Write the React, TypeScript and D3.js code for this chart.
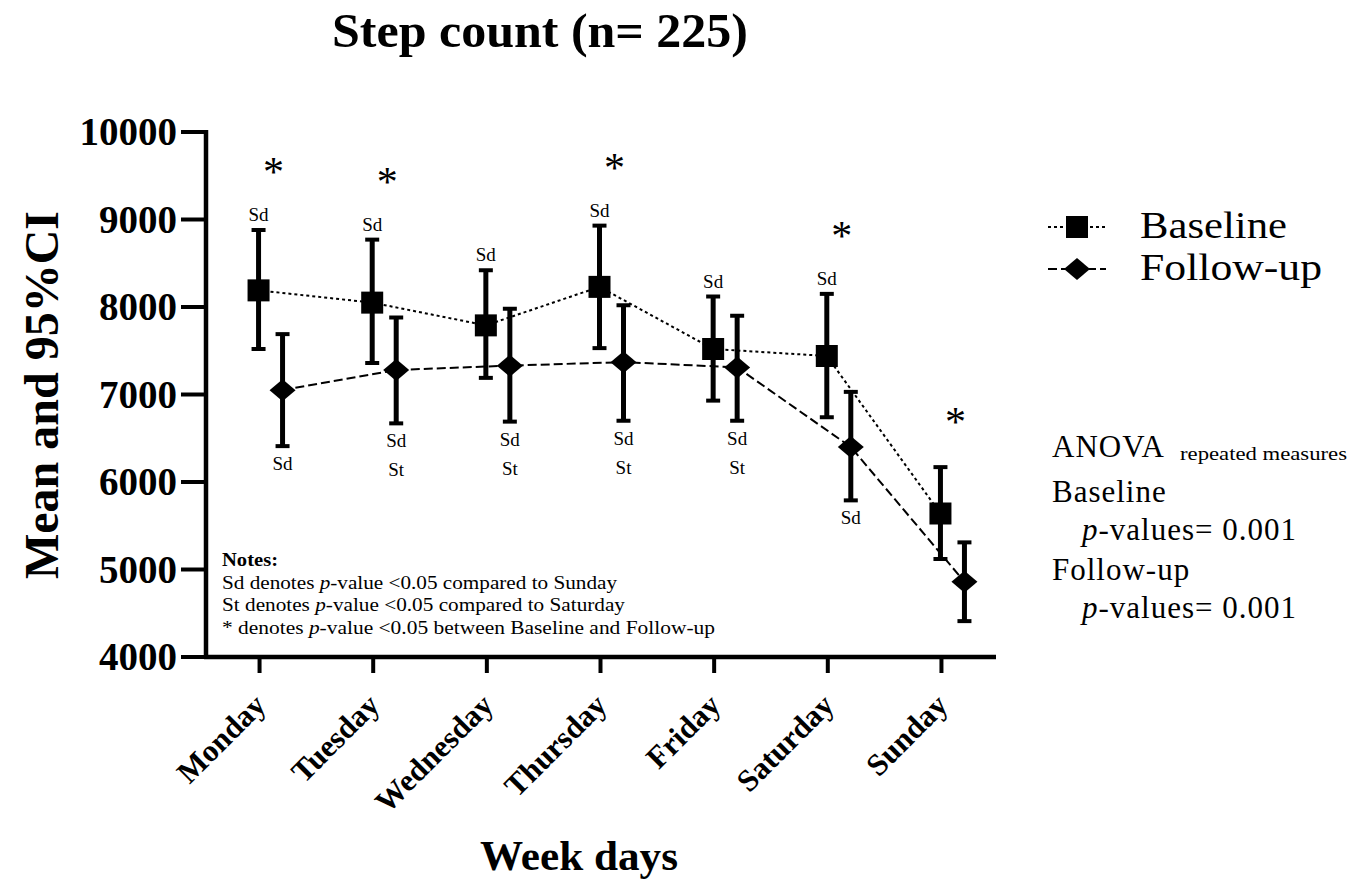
import React from "react";
import * as d3 from "d3";

// chart values
const days = ["Monday", "Tuesday", "Wednesday", "Thursday", "Friday", "Saturday", "Sunday"];
const baselineMean = [8190, 8050, 7790, 8230, 7520, 7440, 5640];
const baselineLow = [7520, 7360, 7190, 7530, 6930, 6740, 5120];
const baselineHigh = [8880, 8770, 8420, 8930, 8120, 8150, 6170];
const followMean = [7050, 7280, 7330, 7370, 7310, 6400, 4860];
const followLow = [6410, 6670, 6690, 6700, 6700, 5790, 4410];
const followHigh = [7690, 7880, 7980, 8020, 7900, 7030, 5310];
const baselineMarks = ["Sd", "Sd", "Sd", "Sd", "Sd", "Sd", ""];
const followMarks = [["Sd"], ["Sd", "St"], ["Sd", "St"], ["Sd", "St"], ["Sd", "St"], ["Sd"], []];
const starDays = [true, true, false, true, false, true, true];
const yTicks = [4000, 5000, 6000, 7000, 8000, 9000, 10000];

const W = 1351;
const H = 881;
const FONT = "'Liberation Serif', 'Times New Roman', serif";

export default function App() {
  const y = d3.scaleLinear().domain([4000, 10000]).range([657, 132]);
  const x = d3.scalePoint<string>().domain(days).range([205, 996]).padding(0.48);
  const bx = (d: string) => (x(d) as number) - 1; // baseline offset
  const fx = (d: string) => (x(d) as number) + 23; // follow-up offset

  const baseLine = d3
    .line<number>()
    .x((_, i) => bx(days[i]))
    .y((d) => y(d));
  const followLine = d3
    .line<number>()
    .x((_, i) => fx(days[i]))
    .y((d) => y(d));

  const diamond = (cx: number, cy: number) =>
    `M${cx},${cy - 11}L${cx + 13},${cy}L${cx},${cy + 11}L${cx - 13},${cy}Z`;

  const errBar = (cx: number, lo: number, hi: number, key: string) => (
    <g key={key} stroke="#000">
      <line x1={cx} x2={cx} y1={y(hi)} y2={y(lo)} strokeWidth={5} />
      <line x1={cx - 7} x2={cx + 7} y1={y(hi)} y2={y(hi)} strokeWidth={4} />
      <line x1={cx - 7} x2={cx + 7} y1={y(lo)} y2={y(lo)} strokeWidth={4} />
    </g>
  );

  return (
    <svg
      width={W}
      height={H}
      style={{ position: "absolute", left: 0, top: 0, background: "#fff" }}
      fontFamily={FONT}
    >
      {/* title */}
      <text x={332} y={47} fontSize={48} fontWeight="bold" textLength={416} lengthAdjust="spacingAndGlyphs">
        Step count (n= 225)
      </text>

      {/* y axis */}
      <line x1={206} x2={206} y1={y(10000) - 2} y2={y(4000) + 2} stroke="#000" strokeWidth={4.5} />
      {yTicks.map((t) => (
        <g key={t}>
          <line x1={181} x2={206} y1={y(t)} y2={y(t)} stroke="#000" strokeWidth={4} />
          <text x={177} y={y(t)} dy="0.34em" textAnchor="end" fontSize={39} fontWeight="bold">
            {t}
          </text>
        </g>
      ))}
      <text
        transform="translate(58,395) rotate(-90)"
        textAnchor="middle"
        fontSize={48}
        fontWeight="bold"
      >
        Mean and 95%CI
      </text>

      {/* x axis */}
      <line x1={204} x2={996} y1={y(4000)} y2={y(4000)} stroke="#000" strokeWidth={4.5} />
      {days.map((d) => (
        <g key={d}>
          <line x1={x(d)} x2={x(d)} y1={y(4000)} y2={y(4000) + 16} stroke="#000" strokeWidth={4} />
          <text
            transform={`translate(${(x(d) as number) + 8},${y(4000) + 50}) rotate(-45)`}
            textAnchor="end"
            fontSize={31}
            fontWeight="bold"
          >
            {d}
          </text>
        </g>
      ))}
      <text x={480} y={870} fontSize={42} fontWeight="bold" textLength={198} lengthAdjust="spacingAndGlyphs">
        Week days
      </text>

      {/* notes */}
      <g fontSize={19}>
        <text x={222} y={566} fontWeight="bold" textLength={56} lengthAdjust="spacingAndGlyphs">Notes:</text>
        <text x={222} y={589} textLength={395} lengthAdjust="spacingAndGlyphs">
          Sd denotes <tspan fontStyle="italic">p</tspan>-value {"<"}0.05 compared to Sunday
        </text>
        <text x={222} y={611} textLength={403} lengthAdjust="spacingAndGlyphs">
          St denotes <tspan fontStyle="italic">p</tspan>-value {"<"}0.05 compared to Saturday
        </text>
        <text x={222} y={634} textLength={493} lengthAdjust="spacingAndGlyphs">
          * denotes <tspan fontStyle="italic">p</tspan>-value {"<"}0.05 between Baseline and  Follow-up
        </text>
      </g>

      {/* series lines */}
      <path d={baseLine(baselineMean) || ""} fill="none" stroke="#000" strokeWidth={2} strokeDasharray="3,3" />
      <path d={followLine(followMean) || ""} fill="none" stroke="#000" strokeWidth={2} strokeDasharray="9,4" />

      {/* error bars + markers */}
      {days.map((d, i) => errBar(bx(d), baselineLow[i], baselineHigh[i], "be" + d))}
      {days.map((d, i) => errBar(fx(d), followLow[i], followHigh[i], "fe" + d))}
      {days.map((d, i) => (
        <rect key={"bm" + d} x={bx(d) - 11} y={y(baselineMean[i]) - 11} width={22} height={22} fill="#000" />
      ))}
      {days.map((d, i) => (
        <path key={"fm" + d} d={diamond(fx(d), y(followMean[i]))} fill="#000" />
      ))}

      {/* significance labels */}
      <g fontSize={19} textAnchor="middle">
        {days.map((d, i) =>
          baselineMarks[i] ? (
            <text key={"bs" + d} x={bx(d)} y={y(baselineHigh[i]) - 9}>
              {baselineMarks[i]}
            </text>
          ) : null
        )}
        {days.map((d, i) =>
          followMarks[i].map((m, j) => (
            <text key={"fs" + d + m} x={fx(d)} y={y(followLow[i]) + 24 + j * 29}>
              {m}
            </text>
          ))
        )}
      </g>
      <g fontSize={42} textAnchor="middle">
        {days.map((d, i) =>
          starDays[i] ? (
            <text
              key={"st" + d}
              x={(bx(d) + fx(d)) / 2 + 3}
              y={y(baselineHigh[i]) - (baselineMarks[i] ? 65 : 52) + 21}
            >
              *
            </text>
          ) : null
        )}
      </g>

      {/* legend */}
      <line x1={1048} x2={1106} y1={227} y2={227} stroke="#000" strokeWidth={2} strokeDasharray="3,3" />
      <rect x={1066} y={216} width={22} height={22} fill="#000" />
      <text x={1140} y={238} fontSize={37} textLength={147} lengthAdjust="spacingAndGlyphs">Baseline</text>
      <line x1={1048} x2={1106} y1={269} y2={269} stroke="#000" strokeWidth={2} strokeDasharray="9,4" />
      <path d={diamond(1077, 269)} fill="#000" />
      <text x={1140} y={280} fontSize={37} textLength={182} lengthAdjust="spacingAndGlyphs">Follow-up</text>

      {/* ANOVA */}
      <g fontSize={31} letterSpacing={1}>
        <text x={1052} y={457}>
          ANOVA
        </text>
        <text x={1180} y={460} fontSize={19} letterSpacing={0} textLength={167} lengthAdjust="spacingAndGlyphs">
          repeated measures
        </text>
        <text x={1052} y={502}>Baseline</text>
        <text x={1082} y={540}>
          <tspan fontStyle="italic">p</tspan>-values= 0.001
        </text>
        <text x={1052} y={580}>Follow-up</text>
        <text x={1082} y={618}>
          <tspan fontStyle="italic">p</tspan>-values= 0.001
        </text>
      </g>
    </svg>
  );
}
